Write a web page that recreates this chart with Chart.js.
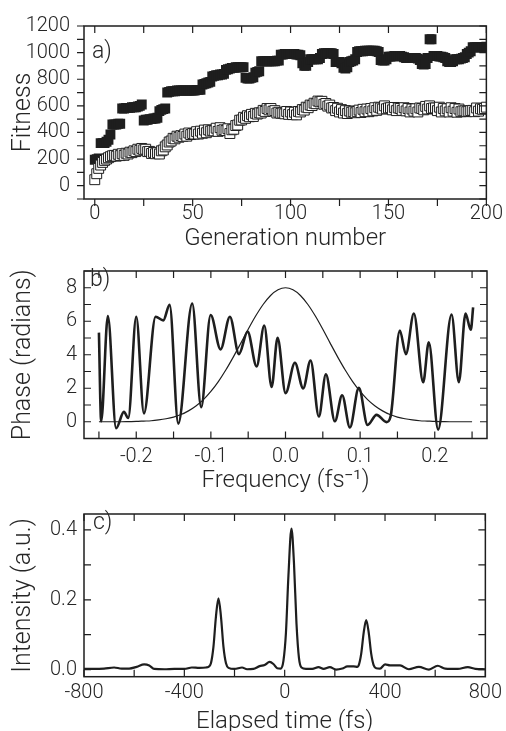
<!DOCTYPE html>
<html>
<head>
<meta charset="utf-8">
<script src="https://cdn.jsdelivr.net/npm/chart.js@4"></script>
<style>
  html, body { margin: 0; padding: 0; background: #fff; overflow: hidden; }
  .panel { position: absolute; left: 0; width: 506px; }
</style>
</head>
<body>
<div class="panel" style="top:0;height:256px"><canvas id="fit"></canvas></div>
<div class="panel" style="top:252px;height:243px"><canvas id="phase"></canvas></div>
<div class="panel" style="top:495px;height:246px"><canvas id="pulse"></canvas></div>
<script>
// a) fitness per generation (index = generation number)
const fitnessBest = [
  195, 200, 205, 320, 320, 320, 330, 345, 385, 460,
  460, 460, 465, 465, 580, 580, 585, 585, 585, 590,
  590, 590, 595, 600, 610, 490, 495, 495, 500, 500,
  505, 505, 510, 560, 570, 575, 580, 700, 705, 710,
  710, 710, 715, 715, 715, 715, 715, 715, 715, 715,
  715, 715, 720, 720, 720, 760, 765, 770, 775, 780,
  820, 825, 830, 830, 835, 835, 840, 870, 875, 880,
  885, 885, 890, 890, 890, 890, 890, 810, 805, 805,
  810, 815, 850, 855, 860, 935, 935, 935, 935, 935,
  935, 935, 935, 940, 940, 985, 985, 990, 990, 990,
  990, 990, 990, 985, 985, 980, 920, 900, 900, 930,
  950, 950, 950, 950, 950, 960, 990, 995, 995, 995,
  995, 995, 990, 930, 930, 930, 920, 885, 880, 890,
  930, 935, 940, 950, 1005, 1010, 1010, 1010, 1015, 1015,
  1015, 1015, 1015, 1015, 1010, 1005, 945, 940, 940, 950,
  970, 970, 970, 975, 975, 975, 975, 970, 965, 960,
  960, 960, 960, 960, 960, 955, 945, 915, 910, 915,
  960, 1100, 1100, 975, 975, 975, 970, 970, 965, 960,
  935, 930, 930, 935, 950, 950, 950, 955, 960, 965,
  990, 1000, 1010, 1040, 1040, 1040, 1040, 1040, 1040, 1040,
  1045
];
const fitnessMean = [
  45, 90, 130, 155, 175, 190, 200, 210, 218, 225,
  228, 222, 236, 226, 240, 228, 244, 238, 252, 248,
  262, 256, 274, 266, 280, 270, 274, 256, 258, 242,
  250, 240, 248, 238, 262, 268, 292, 306, 328, 336,
  356, 352, 372, 364, 376, 370, 388, 372, 396, 384,
  392, 388, 406, 388, 410, 394, 418, 398, 420, 410,
  416, 412, 432, 408, 436, 416, 420, 414, 428, 392,
  420, 424, 452, 456, 492, 494, 514, 506, 526, 518,
  536, 520, 544, 538, 548, 546, 566, 558, 580, 570,
  580, 560, 564, 546, 552, 544, 546, 540, 558, 536,
  554, 534, 552, 532, 558, 554, 572, 568, 590, 586,
  606, 602, 620, 616, 636, 630, 634, 612, 618, 598,
  606, 584, 588, 564, 582, 554, 572, 546, 564, 542,
  562, 552, 556, 548, 558, 568, 550, 574, 556, 576,
  556, 580, 562, 586, 566, 590, 584, 576, 600, 578,
  584, 586, 570, 588, 564, 584, 580, 566, 586, 562,
  580, 554, 576, 560, 578, 554, 584, 580, 570, 596,
  576, 600, 580, 584, 584, 564, 590, 554, 580, 562,
  578, 554, 586, 560, 580, 552, 576, 556, 562, 562,
  556, 560, 564, 566, 556, 584, 560, 578, 574, 580,
  590
];
const genTicks = [0, 50, 100, 150, 200];
const fitnessTicks = [0, 200, 400, 600, 800, 1000, 1200];

// b) spectral phase and spectrum
const phaseFreq = [-0.250, -0.247, -0.238, -0.227, -0.2165, -0.2107, -0.200, -0.1897, -0.174, -0.1638,
  -0.1553, -0.1437, -0.125, -0.113, -0.1003, -0.087, -0.0745, -0.0624, -0.0508, -0.0387,
  -0.0285, -0.0186, -0.0106, 0.0001, 0.0126, 0.0237, 0.0336, 0.0447, 0.0541, 0.0662,
  0.0759, 0.0863, 0.0983, 0.110, 0.122, 0.1354, 0.1408, 0.1532, 0.1613, 0.172,
  0.1845, 0.192, 0.2045, 0.2225, 0.2323, 0.2412, 0.2483, 0.2514];
const phaseValues = [5.32, 0.03, 6.31, -0.39, 0.59, 0.22, 6.27, 0.50, 6.27, 6.05,
  6.98, -0.11, 7.06, 0.87, 6.37, 4.32, 6.27, 4.04, 5.38, 3.30,
  5.75, 2.08, 5.01, 1.71, 3.52, 1.99, 3.66, 0.31, 2.83, 0.03,
  1.58, -0.34, 2.03, -0.19, 0.41, -0.02, 0.31, 5.44, 4.04, 6.46,
  2.36, 4.75, -0.47, 6.40, 2.36, 6.46, 5.49, 6.83];
const specFreq = [-0.25, -0.24, -0.23, -0.22, -0.21, -0.20, -0.19, -0.18, -0.17, -0.16,
  -0.15, -0.14, -0.13, -0.12, -0.11, -0.10, -0.09, -0.08, -0.07, -0.06,
  -0.05, -0.04, -0.03, -0.02, -0.01, 0.00, 0.01, 0.02, 0.03, 0.04,
  0.05, 0.06, 0.07, 0.08, 0.09, 0.10, 0.11, 0.12, 0.13, 0.14,
  0.15, 0.16, 0.17, 0.18, 0.19, 0.20, 0.21, 0.22, 0.23, 0.24, 0.25];
const specValues = [0, 0, 0, 0, 0.01, 0.02, 0.04, 0.06, 0.11, 0.18,
  0.28, 0.43, 0.65, 0.94, 1.32, 1.81, 2.40, 3.09, 3.86, 4.68,
  5.52, 6.31, 7.00, 7.54, 7.88, 8.00, 7.88, 7.54, 7.00, 6.31,
  5.52, 4.68, 3.86, 3.09, 2.40, 1.81, 1.32, 0.94, 0.65, 0.43,
  0.28, 0.18, 0.11, 0.06, 0.04, 0.02, 0.01, 0, 0, 0, 0];
const freqTicks = [-0.2, -0.1, 0, 0.1, 0.2];
const phaseTicks = [0, 2, 4, 6, 8];

// c) temporal intensity
const timeFs = [-800, -760, -720, -680, -650, -620, -590, -560, -540, -520,
  -480, -440, -400, -370, -340, -314, -304, -294, -284, -274,
  -264, -254, -244, -234, -224, -200, -170, -150, -125, -100,
  -80, -60, -45, -30, -15, -5, 5, 15, 27, 37,
  47, 57, 67, 85, 110, 135, 155, 180, 205, 230,
  250, 275, 290, 295, 305, 315, 325, 335, 345, 355,
  365, 380, 400, 420, 460, 495, 535, 575, 610, 640,
  690, 730, 760, 800];
const intensity = [0.002, 0.002, 0.003, 0.006, 0.003, 0.003, 0.008, 0.015, 0.012, 0.002,
  0.001, 0.002, 0.002, 0.006, 0.005, 0.006, 0.008, 0.018, 0.065, 0.152,
  0.204, 0.152, 0.065, 0.018, 0.005, 0.002, 0.006, 0.001, 0.002, 0.010,
  0.013, 0.022, 0.016, 0.004, 0.003, 0.025, 0.105, 0.270, 0.404, 0.306,
  0.133, 0.033, 0.006, 0.002, 0.002, 0.007, 0.002, 0.007, 0.000, 0.003,
  0.009, 0.009, 0.008, 0.012, 0.045, 0.106, 0.142, 0.106, 0.045, 0.012,
  0.004, 0.003, 0.015, 0.012, 0.012, 0.001, 0.008, 0.000, 0.011, 0.003,
  0.002, 0.007, 0.002, 0.001];
const timeTicks = [-800, -400, 0, 400, 800];
const intensityTicks = [0, 0.2, 0.4];

const INK = '#1e1e1e';
const FONT = 'Roboto, "Liberation Sans", Arial, sans-serif';
Chart.defaults.font.family = FONT;
Chart.defaults.font.weight = 300;
Chart.defaults.color = '#262626';

// box round the plot, tick marks on all four sides, panel letter
const frameTicks = {
  id: 'frameTicks',
  afterDatasetsDraw(chart, args, o) {
    const { ctx, chartArea: a, scales } = chart;
    const len = 7;
    const steps = (s, step) => {
      const out = [];
      for (let k = Math.ceil(s.min / step - 1e-6); k * step <= s.max + 1e-9; k++) out.push(k * step);
      return out;
    };
    ctx.save();
    ctx.strokeStyle = INK;
    ctx.lineWidth = 1.5;
    ctx.strokeRect(a.left, a.top, a.right - a.left, a.bottom - a.top);
    ctx.lineWidth = 1.2;
    ctx.beginPath();
    steps(scales.x, o.xStep).forEach(v => {
      const px = scales.x.getPixelForValue(v);
      ctx.moveTo(px, a.bottom);
      ctx.lineTo(px, a.bottom + (o.outside ? len : -len));
      ctx.moveTo(px, a.top);
      ctx.lineTo(px, a.top + len);
    });
    steps(scales.y, o.yStep).forEach(v => {
      const py = scales.y.getPixelForValue(v);
      ctx.moveTo(a.left, py);
      ctx.lineTo(a.left + (o.outside ? -len : len), py);
      ctx.moveTo(a.right, py);
      ctx.lineTo(a.right - len, py);
    });
    ctx.stroke();
    ctx.fillStyle = '#262626';
    ctx.font = '300 23px ' + FONT;
    ctx.textBaseline = 'alphabetic';
    ctx.fillText(o.label, o.labelX, o.labelY);
    ctx.restore();
  }
};

function axis(min, max, ticks, fmt, opts) {
  return {
    type: 'linear', min, max,
    grid: { display: false, drawTicks: false },
    border: { display: false },
    afterBuildTicks: s => { s.ticks = ticks.map(v => ({ value: v })); },
    afterFit: s => { if (opts.width) s.width = opts.width; if (opts.height) s.height = opts.height; },
    ticks: { padding: opts.pad, font: { size: 20 }, autoSkip: false, maxRotation: 0, callback: fmt },
    title: { display: true, text: opts.title, font: { size: opts.titleSize }, padding: opts.titlePad }
  };
}

const base = {
  responsive: true,
  maintainAspectRatio: false,
  animation: false,
  events: []
};

new Chart(document.getElementById('fit'), {
  type: 'scatter',
  data: {
    datasets: [
      {
        data: fitnessMean.map((v, i) => ({ x: i, y: v })),
        pointStyle: 'rect', pointRadius: 7,
        backgroundColor: '#ffffff', borderColor: INK, borderWidth: 1
      },
      {
        data: fitnessBest.map((v, i) => ({ x: i, y: v })),
        pointStyle: 'rect', pointRadius: 7,
        backgroundColor: INK, borderColor: INK, borderWidth: 0
      }
    ]
  },
  options: {
    ...base,
    layout: { padding: { left: 0, right: 19, top: 22, bottom: 0 } },
    plugins: {
      legend: { display: false }, tooltip: { enabled: false },
      frameTicks: { xStep: 25, yStep: 100, outside: true, label: 'a)', labelX: 92, labelY: 58 }
    },
    scales: {
      x: axis(-5.5, 200, genTicks, v => String(v),
        { height: 57, pad: 3, title: 'Generation number', titleSize: 24, titlePad: { top: 0, bottom: 2.5 } }),
      y: axis(-100, 1200, fitnessTicks, v => String(v),
        { width: 84, pad: 14, title: 'Fitness', titleSize: 25, titlePad: { top: 9, bottom: 0 } })
    }
  },
  plugins: [frameTicks]
});

new Chart(document.getElementById('phase'), {
  type: 'line',
  data: {
    datasets: [
      {
        data: phaseFreq.map((f, i) => ({ x: f, y: phaseValues[i] })),
        borderColor: INK, borderWidth: 2.6, pointRadius: 0,
        cubicInterpolationMode: 'monotone', fill: false
      },
      {
        data: specFreq.map((f, i) => ({ x: f, y: specValues[i] })),
        borderColor: INK, borderWidth: 1.2, pointRadius: 0,
        cubicInterpolationMode: 'monotone', fill: false
      }
    ]
  },
  options: {
    ...base,
    layout: { padding: { left: 0, right: 19, top: 7.5, bottom: 0 } },
    plugins: {
      legend: { display: false }, tooltip: { enabled: false },
      frameTicks: { xStep: 0.05, yStep: 1, outside: false, label: 'b)', labelX: 90, labelY: 34 }
    },
    scales: {
      x: axis(-0.27, 0.27, freqTicks, v => Number(v).toFixed(1),
        { height: 56.5, pad: 6, title: 'Frequency (fs\u207B\u00B9)', titleSize: 24, titlePad: { top: 0, bottom: 0 } }),
      y: axis(-1, 9, phaseTicks, v => String(v),
        { width: 84, pad: 7, title: 'Phase (radians)', titleSize: 25, titlePad: { top: 9, bottom: 0 } })
    }
  },
  plugins: [frameTicks]
});

new Chart(document.getElementById('pulse'), {
  type: 'line',
  data: {
    datasets: [
      {
        data: timeFs.map((t, i) => ({ x: t, y: intensity[i] })),
        borderColor: INK, borderWidth: 2.2, pointRadius: 0,
        cubicInterpolationMode: 'monotone', fill: false
      }
    ]
  },
  options: {
    ...base,
    layout: { padding: { left: 0, right: 19, top: 5, bottom: 0 } },
    plugins: {
      legend: { display: false }, tooltip: { enabled: false },
      frameTicks: { xStep: 200, yStep: 0.1, outside: false, label: 'c)', labelX: 93, labelY: 34 }
    },
    scales: {
      x: axis(-800, 800, timeTicks, v => String(v),
        { height: 64.3, pad: 4, title: 'Elapsed time (fs)', titleSize: 24, titlePad: { top: 0, bottom: 4.5 } }),
      y: axis(-0.0203, 0.4457, intensityTicks, v => Number(v).toFixed(1),
        { width: 84, pad: 7, title: 'Intensity (a.u.)', titleSize: 25, titlePad: { top: 9, bottom: 0 } })
    }
  },
  plugins: [frameTicks]
});
</script>
</body>
</html>
